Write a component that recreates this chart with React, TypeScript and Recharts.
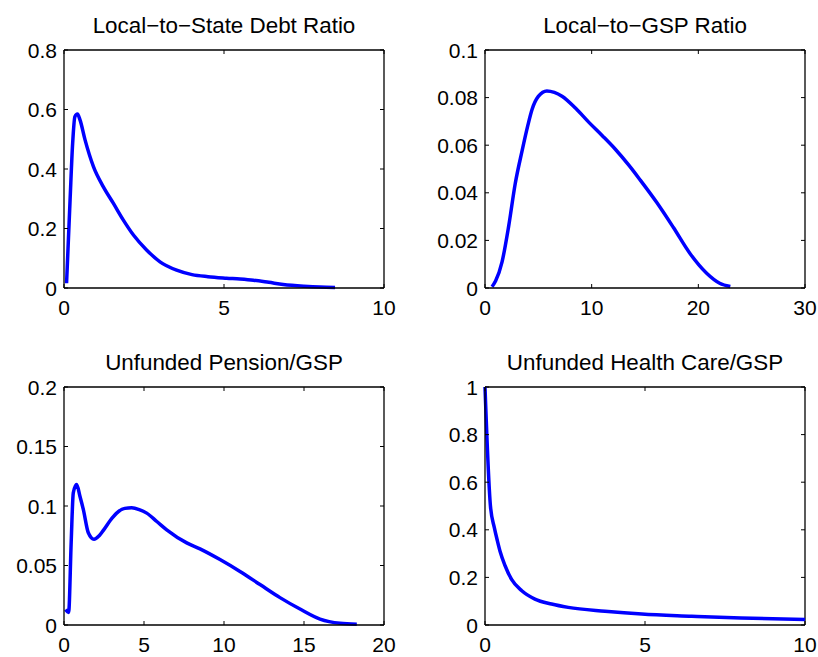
import React from "react";
import { LineChart, Line, XAxis, YAxis, ReferenceLine } from "recharts";

// ---- data ----
const debtX = [0.08, 0.19, 0.27, 0.34, 0.42, 0.5, 0.66, 0.92, 1.23, 1.54, 1.85, 2.17, 2.58, 3.0, 3.52, 4.0, 4.5, 5.08, 5.5, 5.92, 6.4, 6.85, 7.5, 8.0, 8.47];
const debtY = [0.016, 0.296, 0.486, 0.576, 0.585, 0.565, 0.497, 0.408, 0.34, 0.285, 0.229, 0.178, 0.128, 0.088, 0.06, 0.045, 0.038, 0.033, 0.03, 0.026, 0.019, 0.012, 0.006, 0.003, 0.002];

const gspX = [0.66, 1.0, 1.6, 2.22, 2.84, 3.47, 4.0, 4.41, 5.0, 5.8, 6.5, 7.22, 8.5, 9.72, 11.0, 12.22, 13.5, 14.53, 16.09, 17.65, 19.2, 20.78, 22.0, 23.0];
const gspY = [0.0005, 0.003, 0.011, 0.026, 0.044, 0.0575, 0.068, 0.075, 0.0805, 0.0828, 0.0822, 0.0806, 0.0755, 0.0697, 0.064, 0.0583, 0.0515, 0.0455, 0.036, 0.0255, 0.0146, 0.0062, 0.002, 0.0006];

const pensionX = [0.1, 0.29, 0.45, 0.58, 0.79, 1.0, 1.21, 1.52, 1.875, 2.2, 2.46, 2.9, 3.29, 3.8, 4.23, 4.7, 5.17, 5.8, 6.42, 7.67, 8.5, 9.75, 11.0, 12.25, 13.5, 14.75, 16.0, 17.25, 18.3];
const pensionY = [0.013, 0.0106, 0.07, 0.111, 0.118, 0.108, 0.097, 0.0775, 0.072, 0.075, 0.0795, 0.088, 0.094, 0.098, 0.0985, 0.097, 0.094, 0.087, 0.08, 0.069, 0.064, 0.055, 0.045, 0.034, 0.023, 0.0134, 0.005, 0.0014, 0.0006];

const healthX = [0, 0.17, 0.29, 0.385, 0.47, 0.625, 0.83, 1.15, 1.56, 2.08, 2.6, 3.75, 4.9, 6.46, 8.0, 10];
const healthY = [1.0, 0.5, 0.41, 0.355, 0.31, 0.25, 0.192, 0.144, 0.109, 0.088, 0.074, 0.058, 0.046, 0.037, 0.029, 0.023];

const debtXTicks = [0, 5, 10];
const debtYTicks = [0, 0.2, 0.4, 0.6, 0.8];
const gspXTicks = [0, 10, 20, 30];
const gspYTicks = [0, 0.02, 0.04, 0.06, 0.08, 0.1];
const pensionXTicks = [0, 5, 10, 15, 20];
const pensionYTicks = [0, 0.05, 0.1, 0.15, 0.2];
const healthXTicks = [0, 5, 10];
const healthYTicks = [0, 0.2, 0.4, 0.6, 0.8, 1];

const titles = ["Local\u2212to\u2212State Debt Ratio", "Local\u2212to\u2212GSP Ratio", "Unfunded Pension/GSP", "Unfunded Health Care/GSP"];

const zip = (xs: number[], ys: number[]) => xs.map((x, i) => ({ x, y: ys[i] }));

const BOX_W = 320;
const BOX_H = 238;
const ML = 64;
const MT = 50;
const MB = 40;
const MR = 12;
const TICK = 4;
const FONT = "'Liberation Sans', Arial, Helvetica, sans-serif";

const XTick = (props: any) => {
  const { x, y, payload } = props;
  return (
    <g>
      <line x1={x} y1={y} x2={x} y2={y - TICK} stroke="#000" strokeWidth={1} />
      <line x1={x} y1={y - BOX_H} x2={x} y2={y - BOX_H + TICK} stroke="#000" strokeWidth={1} />
      <text x={x} y={y + 27} textAnchor="middle" fontSize={21} fill="#000" fontFamily={FONT}>
        {String(payload.value)}
      </text>
    </g>
  );
};

const YTick = (props: any) => {
  const { x, y, payload } = props;
  return (
    <g>
      <line x1={x} y1={y} x2={x + TICK} y2={y} stroke="#000" strokeWidth={1} />
      <line x1={x + BOX_W} y1={y} x2={x + BOX_W - TICK} y2={y} stroke="#000" strokeWidth={1} />
      <text x={x - 7} y={y + 7.5} textAnchor="end" fontSize={21} fill="#000" fontFamily={FONT}>
        {String(payload.value)}
      </text>
    </g>
  );
};

type PanelProps = {
  boxLeft: number;
  boxTop: number;
  data: { x: number; y: number }[];
  xTicks: number[];
  yTicks: number[];
  title: string;
};

const Panel = ({ boxLeft, boxTop, data, xTicks, yTicks, title }: PanelProps) => {
  const xMax = xTicks[xTicks.length - 1];
  const yMax = yTicks[yTicks.length - 1];
  return (
    <div style={{ position: "absolute", left: boxLeft - ML, top: boxTop - MT }}>
      <LineChart
        width={ML + BOX_W + MR}
        height={MT + BOX_H + MB}
        data={data}
        margin={{ top: MT, right: MR, left: 0, bottom: 0 }}
      >
        <XAxis
          type="number"
          dataKey="x"
          domain={[xTicks[0], xMax]}
          ticks={xTicks}
          interval={0}
          height={MB}
          tickSize={0}
          tickMargin={0}
          tickLine={false}
          axisLine={{ stroke: "#000", strokeWidth: 1.3 }}
          tick={<XTick />}
        />
        <YAxis
          type="number"
          dataKey="y"
          domain={[yTicks[0], yMax]}
          ticks={yTicks}
          interval={0}
          width={ML}
          tickSize={0}
          tickMargin={0}
          tickLine={false}
          axisLine={{ stroke: "#000", strokeWidth: 1.3 }}
          tick={<YTick />}
        />
        <ReferenceLine
          y={yMax}
          stroke="#000"
          strokeWidth={1.3}
          label={{ value: title, position: "top", offset: 17, fill: "#000", fontSize: 22.4, fontFamily: FONT }}
        />
        <ReferenceLine x={xMax} stroke="#000" strokeWidth={1.3} />
        <Line
          type="monotone"
          dataKey="y"
          stroke="#0000ff"
          strokeWidth={3.5}
          dot={false}
          activeDot={false}
          isAnimationActive={false}
        />
      </LineChart>
    </div>
  );
};

export default function App() {
  return (
    <div style={{ position: "absolute", left: 0, top: 0, width: 818, height: 657, background: "#fff", fontFamily: FONT }}>
      <Panel boxLeft={64} boxTop={50} data={zip(debtX, debtY)} xTicks={debtXTicks} yTicks={debtYTicks} title={titles[0]} />
      <Panel boxLeft={485} boxTop={50} data={zip(gspX, gspY)} xTicks={gspXTicks} yTicks={gspYTicks} title={titles[1]} />
      <Panel boxLeft={64} boxTop={387} data={zip(pensionX, pensionY)} xTicks={pensionXTicks} yTicks={pensionYTicks} title={titles[2]} />
      <Panel boxLeft={485} boxTop={387} data={zip(healthX, healthY)} xTicks={healthXTicks} yTicks={healthYTicks} title={titles[3]} />
    </div>
  );
}
